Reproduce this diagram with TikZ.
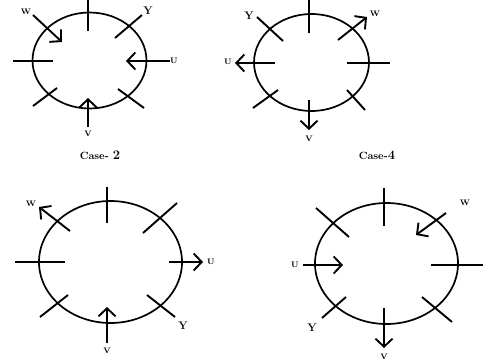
\documentclass[tikz,border=0pt]{standalone}
\usetikzlibrary{arrows.meta}
\begin{document}
\begin{tikzpicture}[x=1pt,y=-1pt,
  line width=1.9pt,
  ring/.style={draw,line width=1.7pt},
  tick/.style={draw},
  arr/.style={draw,-{Straight Barb[length=8pt,width=17pt,line width=1.9pt]}},
  lab/.style={font=\bfseries\fontsize{8}{9}\selectfont,inner sep=0pt},
  labY/.style={font=\bfseries\fontsize{11}{12}\selectfont,inner sep=0pt},
  caselab/.style={font=\bfseries\fontsize{10.5}{12}\selectfont,inner sep=0pt}]
\useasboundingbox (0,0) rectangle (488,362);
% ---------- Case 2 ----------
\draw[ring] (89.5,60.5) ellipse [x radius=57, y radius=48];
\draw[tick] (88,0) -- (88,31);
\draw[tick] (13,61) -- (53,61);
\draw[tick] (115,38) -- (142,15);
\draw[tick] (33,106) -- (57,88);
\draw[tick] (118,89) -- (144,108);
\coordinate (a1s) at (33,15); \coordinate (a1e) at (62,42);
\draw[arr] (a1s) -- (a1e);
\coordinate (a2s) at (170,61); \coordinate (a2e) at (126,61);
\draw[arr] (a2s) -- (a2e);
\coordinate (a3s) at (88,127); \coordinate (a3e) at (88,98);
\draw[arr] (a3s) -- (a3e);
\node[lab] (w1) at (26,12) {W};
\node[lab] (u1) at (174,61) {U};
\node[lab] (v1) at (88,134) {V};
\node[labY] (y1) at (148,11) {Y};
\node[caselab] (c2) at (100,155) {Case- {\fontsize{13}{14}\selectfont 2}};
% ---------- Case 4 ----------
\draw[ring] (311.5,62.5) ellipse [x radius=57.5, y radius=48.5];
\draw[tick] (309,0) -- (309,33);
\draw[tick] (347,63) -- (390,63);
\draw[tick] (257,17) -- (283,41);
\draw[tick] (253,108) -- (278,90);
\draw[tick] (347,90) -- (365,110);
\coordinate (b1s) at (275,63); \coordinate (b1e) at (235,63);
\draw[arr] (b1s) -- (b1e);
\coordinate (b2s) at (338,40); \coordinate (b2e) at (367,17);
\draw[arr] (b2s) -- (b2e);
\coordinate (b3s) at (309,100); \coordinate (b3e) at (309,130);
\draw[arr] (b3s) -- (b3e);
\node[lab] (u2) at (228,62) {U};
\node[lab] (w2) at (375,14) {W};
\node[lab] (v2) at (309,139) {V};
\node[labY] (y2) at (249,16) {Y};
\node[caselab] (c4) at (377,155) {Case-{\fontsize{13}{14}\selectfont 4}};
% ---------- bottom left ----------
\draw[ring] (110.5,262) ellipse [x radius=71.5, y radius=61];
\draw[tick] (107,187) -- (107,223);
\draw[tick] (15,262) -- (65,262);
\draw[tick] (143,233) -- (177,203);
\draw[tick] (40,317) -- (68,295);
\draw[tick] (147,295) -- (175,317);
\coordinate (c1s) at (70,231); \coordinate (c1e) at (39,207);
\draw[arr] (c1s) -- (c1e);
\coordinate (c2s) at (169,262); \coordinate (c2e) at (203,262);
\draw[arr] (c2s) -- (c2e);
\coordinate (c3s) at (107,343); \coordinate (c3e) at (107,307);
\draw[arr] (c3s) -- (c3e);
\node[lab] (w3) at (31,204) {W};
\node[lab] (u3) at (211,262) {U};
\node[lab] (v3) at (107,351) {V};
\node[labY] (y3) at (183,326) {Y};
% ---------- bottom right ----------
\draw[ring] (386.5,263.5) ellipse [x radius=71.5, y radius=60.5];
\draw[tick] (384,188) -- (384,226);
\draw[tick] (431,265) -- (483,265);
\draw[tick] (316,208) -- (349,237);
\draw[tick] (422,297) -- (452,322);
\draw[tick] (346,297) -- (322,318);
\coordinate (d1s) at (446,213); \coordinate (d1e) at (416,235);
\draw[arr] (d1s) -- (d1e);
\coordinate (d2s) at (303,265); \coordinate (d2e) at (343,265);
\draw[arr] (d2s) -- (d2e);
\coordinate (d3s) at (384,308); \coordinate (d3e) at (384,348);
\draw[arr] (d3s) -- (d3e);
\node[lab] (w4) at (465,203) {W};
\node[lab] (u4) at (295,265) {U};
\node[lab] (v4) at (384,357) {V};
\node[labY] (y4) at (312,328) {Y};
\end{tikzpicture}
\end{document}
